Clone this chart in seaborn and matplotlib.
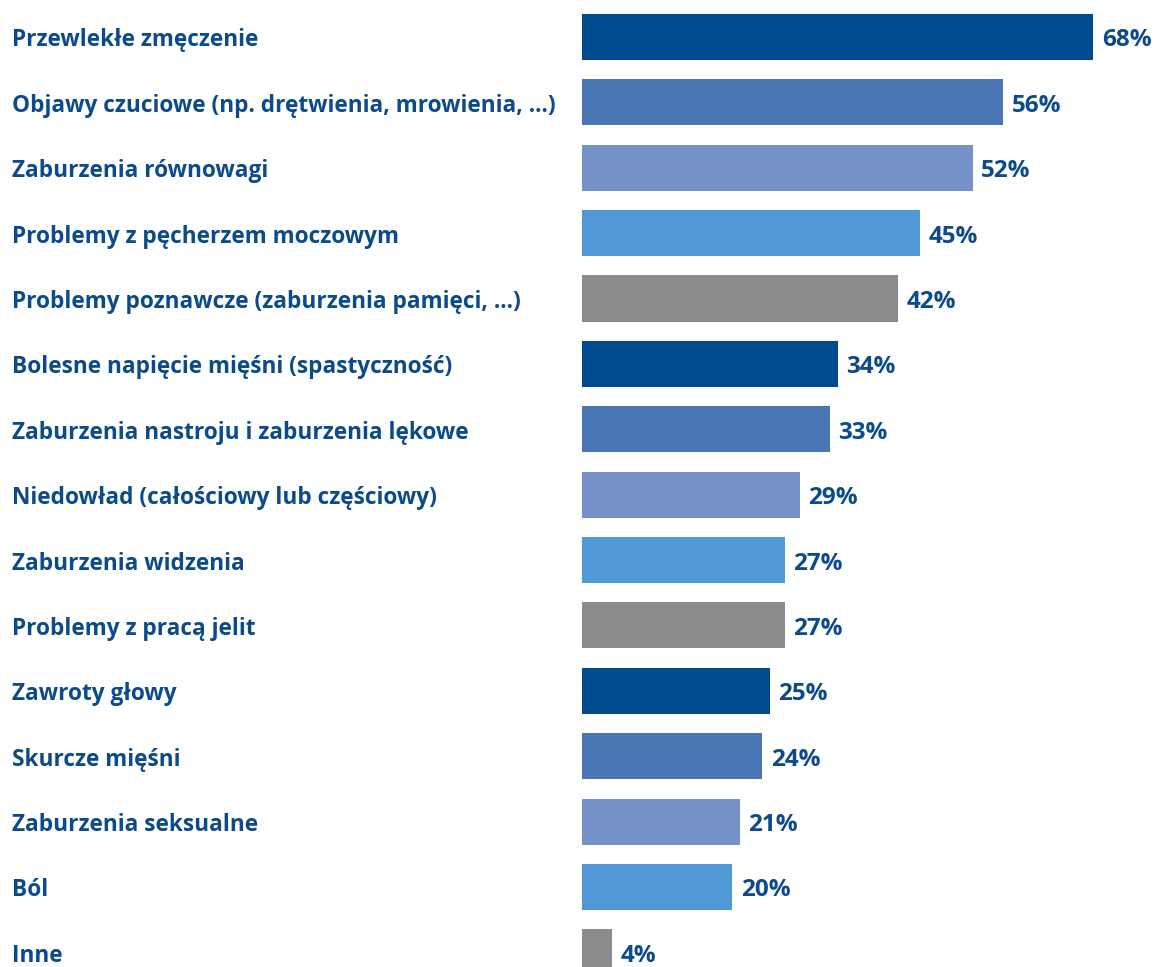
import matplotlib
matplotlib.use("Agg")
import matplotlib.pyplot as plt
import matplotlib.transforms as mtransforms
import seaborn as sns
import pandas as pd

categories = [
    "Przewlekłe zmęczenie",
    "Objawy czuciowe (np. drętwienia, mrowienia, ...)",
    "Zaburzenia równowagi",
    "Problemy z pęcherzem moczowym",
    "Problemy poznawcze (zaburzenia pamięci, ...)",
    "Bolesne napięcie mięśni (spastyczność)",
    "Zaburzenia nastroju i zaburzenia lękowe",
    "Niedowład (całościowy lub częściowy)",
    "Zaburzenia widzenia",
    "Problemy z pracą jelit",
    "Zawroty głowy",
    "Skurcze mięśni",
    "Zaburzenia seksualne",
    "Ból",
    "Inne",
]
values = [68, 56, 52, 45, 42, 34, 33, 29, 27, 27, 25, 24, 21, 20, 4]
value_labels = [f"{v}%" for v in values]

cycle_colors = ["#004a8f", "#4a76b3", "#7492c8", "#5199d6", "#8c8c8c"]
bar_colors = [cycle_colors[i % len(cycle_colors)] for i in range(len(categories))]
text_color = "#0b4a8b"

df = pd.DataFrame({"category": categories, "value": values})

sns.set_theme(style="white")
plt.rcParams["font.family"] = ["Open Sans", "DejaVu Sans"]

W, H, DPI = 1157, 967, 100
fig = plt.figure(figsize=(W / DPI, H / DPI), dpi=DPI)
fig.patch.set_facecolor("white")

# plotting area starts where the bars start; labels live in the left margin
left_px = 582
ax = fig.add_axes([left_px / W, 0, 1 - left_px / W, 1])

sns.barplot(
    data=df, x="value", y="category", hue="category",
    palette=bar_colors, orient="h", width=0.705,
    legend=False, ax=ax, saturation=1, linewidth=0,
)

px_per_unit = 7.52
ax.set_xlim(0, (W - left_px) / px_per_unit)
row_px = 65.38
top_center_px = 37
ax.set_ylim(-top_center_px / row_px + H / row_px, -top_center_px / row_px)

ax.set_xlabel("")
ax.set_ylabel("")
ax.set_xticks([])
ax.set_yticks([])
for s in ax.spines.values():
    s.set_visible(False)
ax.set_facecolor("none")

baseline_shift = -9.5 * 72 / DPI  # baseline sits a little below the bar centre
font_size = 16.3
value_font_size = 17.5

# category labels in the left margin
trans = mtransforms.blended_transform_factory(fig.transFigure, ax.transData)
for i, name in enumerate(categories):
    ax.annotate(name, xy=(12 / W, i), xycoords=trans,
                xytext=(0, baseline_shift), textcoords="offset points",
                ha="left", va="baseline", fontsize=font_size,
                fontweight="bold", color=text_color, annotation_clip=False)

# value labels right after each bar
for i, (v, lab) in enumerate(zip(values, value_labels)):
    ax.annotate(lab, xy=(v, i), xytext=(6.0, baseline_shift),
                textcoords="offset points", ha="left", va="baseline",
                fontsize=value_font_size, fontweight="bold",
                color=text_color, annotation_clip=False)

fig.savefig("out.png", dpi=DPI)
